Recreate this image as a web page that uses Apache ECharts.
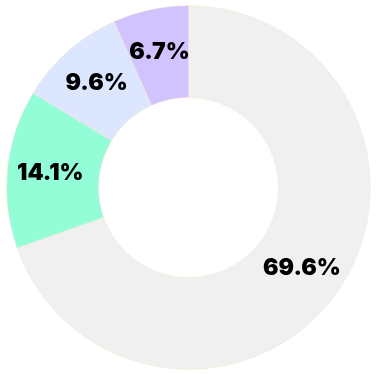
<!DOCTYPE html>
<html><head><meta charset="utf-8">
<script src="https://cdn.jsdelivr.net/npm/echarts@6/dist/echarts.min.js"></script>
<style>html,body{margin:0;padding:0;background:#fff}#c{width:377px;height:375px}</style>
</head><body><div id="c"></div>
<script>
const categories = ['A', 'B', 'C', 'D'];
const values = [69.6, 14.1, 9.6, 6.7];
const colors = ['#f0f0f0', '#93fdd8', '#dce6ff', '#d0c3ff'];
const chart = echarts.init(document.getElementById('c'));
chart.setOption({
  animation: false,
  series: [{
    type: 'pie',
    center: ['50%', '50%'],
    radius: ['48%', '97%'],
    startAngle: 90,
    clockwise: true,
    itemStyle: { borderColor: '#f6e7c8', borderWidth: 0.5 },
    label: {
      show: true,
      position: 'inside',
      formatter: p => p.value.toFixed(1) + '%',
      color: '#000',
      fontFamily: 'Inter',
      fontWeight: 900,
      fontSize: 23
    },
    labelLine: { show: false },
    data: categories.map((c, i) => ({ name: c, value: values[i], itemStyle: { color: colors[i] } }))
  }]
});
</script></body></html>
